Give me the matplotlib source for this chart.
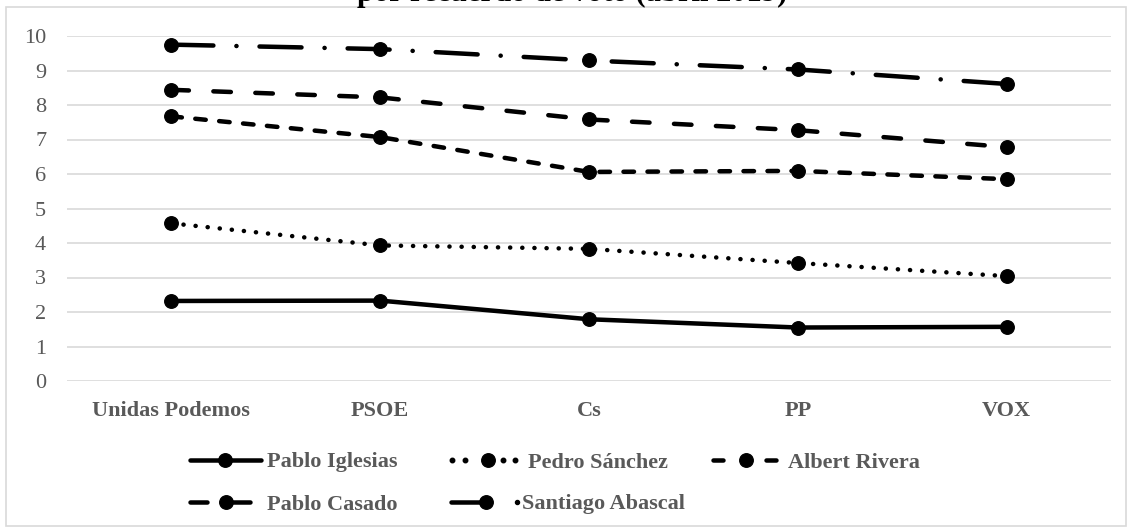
import matplotlib
matplotlib.use("Agg")
import matplotlib.pyplot as plt
from matplotlib.lines import Line2D
from matplotlib.patches import Rectangle

# Datos (valoración media de cada líder según recuerdo de voto)
partidos = ["Unidas Podemos", "PSOE", "Cs", "PP", "VOX"]
iglesias = [2.32, 2.33, 1.79, 1.55, 1.57]
sanchez = [4.57, 3.93, 3.83, 3.42, 3.04]
rivera = [7.67, 7.07, 6.06, 6.09, 5.85]
casado = [8.44, 8.22, 7.58, 7.27, 6.78]
abascal = [9.75, 9.62, 9.29, 9.03, 8.61]
nombres = ["Pablo Iglesias", "Pedro Sánchez", "Albert Rivera", "Pablo Casado", "Santiago Abascal"]
titulo = "por recuerdo de voto (abril 2019)"

plt.rcParams['font.family'] = ['Liberation Serif', 'DejaVu Serif']
plt.rcParams['lines.scale_dashes'] = False

W, H = 1132, 531
GRIS = "#595959"
px = 0.72  # 1 pixel en puntos (dpi=100)
lw = 4.5 * px
ms = 13.5 * px
fs = 16

# Estilos de línea (en puntos, sin escalar)
estilos = [
    "-",
    (0, (0.1, 12 * px)),
    (0, (10.5 * px, 13.5 * px)),
    (0, (17.5 * px, 24.5 * px)),
    (0, (42 * px, 23 * px, 0.1, 23 * px)),
]
series = [iglesias, sanchez, rivera, casado, abascal]

fig = plt.figure(figsize=(W / 100, H / 100), dpi=100)
ax = fig.add_axes([67 / W, 1 - 381 / H, (1111 - 67) / W, (381 - 36) / H])

x = list(range(len(partidos)))
for vals, ls in zip(series, estilos):
    ax.plot(x, vals, color="black", lw=lw, linestyle=ls, dash_capstyle="round",
            solid_capstyle="round", marker="o", markersize=ms, clip_on=False, zorder=3)

ax.set_xlim(-0.5, 4.5)
ax.set_ylim(0, 10)
ax.set_yticks(range(0, 11))
ax.set_xticks(x)
ax.set_xticklabels(partidos, fontweight="bold", fontsize=fs, color=GRIS)
ax.tick_params(axis="y", labelsize=fs, labelcolor=GRIS, length=0, pad=15)
ax.tick_params(axis="x", length=0, pad=14.5)
ax.grid(axis="y", color="#d9d9d9", lw=1.2)
ax.set_axisbelow(True)
for s in ax.spines.values():
    s.set_visible(False)

# Título (cortado en la parte superior)
fig.text(572 / W, 1 - 1.5 / H, titulo, ha="center", va="baseline",
         fontweight="bold", fontsize=22, color="black")

# Marco del gráfico
fig.patches.append(Rectangle((6 / W, 1 - 526 / H), 1120 / W, 519 / H, transform=fig.transFigure,
                             fill=False, edgecolor="#d9d9d9", lw=1.2))

# Leyenda manual: inicio y fin del trazo, fila, marcador, texto, patrón
ley_x0 = [190, 452, 713, 190, 451]
ley_x1 = [261, 515, 776, 253, 486]
ley_y = [460, 460, 460, 502, 502]
ley_m = [225, 488, 746, 226, 486]
ley_t = [267, 528, 788, 267, 522]
ley_dash = [
    None,
    "puntos",
    (0, (10 * px, 43 * px)),
    (0, (17 * px, 26 * px)),
    None,
]
for i, nombre in enumerate(nombres):
    yy = 1 - ley_y[i] / H
    d = ley_dash[i]
    if d is None:
        fig.add_artist(Line2D([ley_x0[i] / W, ley_x1[i] / W], [yy, yy], color="black", lw=lw,
                              solid_capstyle="round", transform=fig.transFigure))
    elif d == "puntos":
        xs = [ley_x0[i], ley_x0[i] + 13, ley_x1[i] - 12, ley_x1[i]]
        fig.add_artist(Line2D([v / W for v in xs], [yy] * len(xs), color="black", lw=0,
                              marker="o", markersize=lw, linestyle="none",
                              transform=fig.transFigure))
    else:
        fig.add_artist(Line2D([ley_x0[i] / W, ley_x1[i] / W], [yy, yy], color="black", lw=lw,
                              linestyle=d, dash_capstyle="round", transform=fig.transFigure))
    fig.add_artist(Line2D([ley_m[i] / W], [yy], color="black", marker="o", markersize=ms,
                          transform=fig.transFigure))
    fig.text(ley_t[i] / W, yy, nombre, ha="left", va="center_baseline",
             fontweight="bold", fontsize=fs, color=GRIS)

# punto suelto del trazo de Santiago Abascal en la leyenda
fig.add_artist(Line2D([517 / W], [1 - 502 / H], color="black", marker="o", markersize=lw * 0.9,
                      linestyle="none", transform=fig.transFigure))

fig.savefig("out.png", dpi=100)
